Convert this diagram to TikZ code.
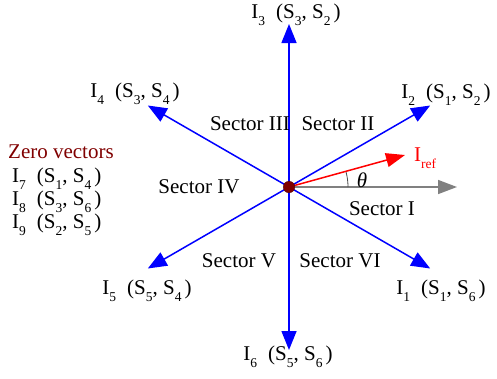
\documentclass[tikz,border=0pt]{standalone}
\usepackage{fontspec}
\setmainfont{Liberation Serif}
\usetikzlibrary{arrows.meta,calc}
\definecolor{darkred}{RGB}{128,0,0}
\definecolor{axgray}{RGB}{128,128,128}
\newcommand{\sbs}[1]{\raisebox{-0.32em}{\fontsize{13.5}{13.5}\selectfont #1}}
\newcommand{\vlab}[3]{I\sbs{#1}\hspace{11pt}(S\sbs{#2}, S\sbs{#3}\hspace{3pt})}
\begin{document}
\begin{tikzpicture}[x=1pt,y=-1pt,
  every node/.style={font=\fontsize{21}{25}\selectfont, inner sep=0pt},
  vec/.style={blue, line width=1.5pt, -{Triangle[length=19pt,width=15pt]}},
  lbl/.style={anchor=center},
  sect/.style={anchor=center},
  zero/.style={anchor=west}]
\useasboundingbox (0,0) rectangle (497,378);
\coordinate (c) at (289,187);
\coordinate (t1) at (430.2,268.5);
\coordinate (t2) at (430.2,105.5);
\coordinate (t3) at (289,24);
\coordinate (t4) at (147.8,105.5);
\coordinate (t5) at (147.8,268.5);
\coordinate (t6) at (289,350);
\coordinate (tg) at (457,187);
\coordinate (tr) at (405,155);
\coordinate (a0) at (348,187);
% gray reference axis
\draw[axgray, line width=1.5pt, -{Triangle[length=19pt,width=14pt]}] (c) -- (tg);
% angle arc
\draw[black!70, line width=0.8pt] (a0) arc[start angle=0, end angle=15.4, radius=59pt];
% active vectors
\foreach \t in {t1,t2,t3,t4,t5,t6} \draw[vec] (c) -- (\t);
% reference vector
\draw[red, line width=1.5pt, -{Triangle[length=19pt,width=14pt]}] (c) -- (tr);
% center dot
\node[circle, fill=darkred, draw=darkred!70!black, line width=0.4pt, minimum size=11.5pt] (o) at (c) {};
% vector labels
\node[lbl] (l3) at (296,15) {\vlab{3}{3}{2}};
\node[lbl] (l2) at (446,95) {\vlab{2}{1}{2}};
\node[lbl] (l4) at (135,94) {\vlab{4}{3}{4}};
\node[lbl] (l5) at (147,291) {\vlab{5}{5}{4}};
\node[lbl] (l1) at (441,291) {\vlab{1}{1}{6}};
\node[lbl] (l6) at (288,357) {\vlab{6}{5}{6}};
\node[lbl, red] (lr) at (425,158) {I\sbs{ref}};
\node[lbl] (th) at (362,180) {\textit{θ}};
% sector labels
\node[sect] (s3) at (250,124) {Sector III};
\node[sect] (s2) at (338,124) {Sector II};
\node[sect] (s4) at (199,187) {Sector IV};
\node[sect] (s1) at (382,209) {Sector I};
\node[sect] (s5) at (239,261) {Sector V};
\node[sect] (s6) at (340,261) {Sector VI};
% zero vectors
\node[zero, darkred] (zv) at (8,152) {Zero vectors};
\node[zero] (z7) at (12,179) {\vlab{7}{1}{4}};
\node[zero] (z8) at (12,202) {\vlab{8}{3}{6}};
\node[zero] (z9) at (12,225) {\vlab{9}{2}{5}};
\end{tikzpicture}
\end{document}
